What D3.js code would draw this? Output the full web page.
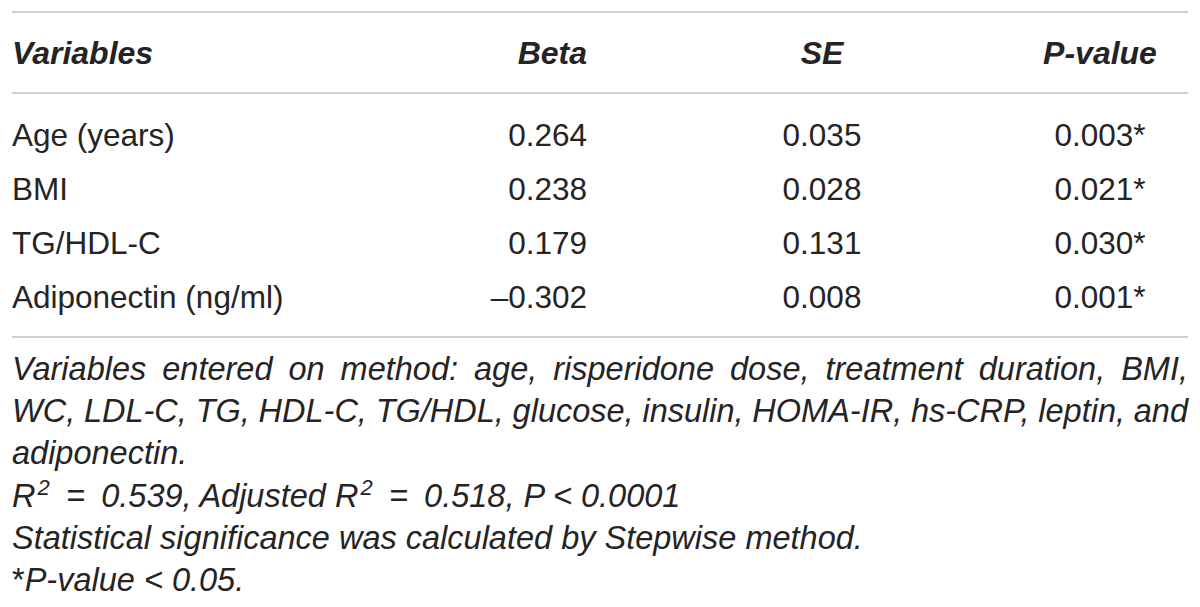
<!DOCTYPE html>
<html>
<head>
<meta charset="utf-8">
<script src="https://cdn.jsdelivr.net/npm/d3@7/dist/d3.min.js"></script>
<style>
  body { margin: 0; background: #fff; }
  text { font-family: "Liberation Sans", Arial, sans-serif; fill: #262324; }
</style>
</head>
<body>
<svg id="chart" width="1200" height="607"></svg>
<script>
// table content
var columns = ["Variables", "Beta", "SE", "P-value"];
var variables = ["Age (years)", "BMI", "TG/HDL-C", "Adiponectin (ng/ml)"];
var beta = ["0.264", "0.238", "0.179", "\u20130.302"];
var se = ["0.035", "0.028", "0.131", "0.008"];
var pValues = ["0.003", "0.021", "0.030", "0.001"];
var significant = [true, true, true, true];

// footnotes: first two lines are justified
var noteLine1 = "Variables entered on method: age, risperidone dose, treatment duration, BMI,";
var noteLine2 = "WC, LDL-C, TG, HDL-C, TG/HDL, glucose, insulin, HOMA-IR, hs-CRP, leptin, and";
var noteLine3 = "adiponectin.";
var noteFit = [["R", ""], ["2", "sup"], ["\u2002=\u20020.539, Adjusted R", ""], ["2", "sup"], ["\u2002=\u20020.518, P < 0.0001", ""]];
var noteLine5 = "Statistical significance was calculated by Stepwise method.";
var noteStar = [["*", "up"], ["P-value < 0.05.", ""]];

var LEFT = 12, RIGHT = 1188;
var FS = 31.5, NOTE_FS = 32.5;

var svg = d3.select("#chart");

var x = d3.scaleOrdinal().domain(columns).range([LEFT, 587, 822, 1100]);
var anchor = d3.scaleOrdinal().domain(columns).range(["start", "end", "middle", "middle"]);
var y = d3.scalePoint().domain(variables).range([146, 308]);
var noteY = d3.scalePoint().domain(d3.range(6)).range([380, 591]);

// rules
[12, 93, 337].forEach(function(ry) {
  svg.append("line")
    .attr("x1", LEFT).attr("x2", RIGHT)
    .attr("y1", ry).attr("y2", ry)
    .style("stroke", "#cfcfcf")
    .style("stroke-width", 2);
});

// header
svg.append("g").selectAll("text")
  .data(columns)
  .enter().append("text")
    .attr("x", function(d) { return x(d); })
    .attr("y", 64)
    .attr("text-anchor", function(d) { return anchor(d); })
    .style("font-size", "32px")
    .style("font-weight", "bold")
    .style("font-style", "italic")
    .text(function(d) { return d; });

// body rows
var rows = variables.map(function(v, i) {
  return { name: v, beta: beta[i], se: se[i], p: pValues[i], sig: significant[i] };
});

var rowG = svg.append("g").selectAll("g")
  .data(rows)
  .enter().append("g")
    .attr("transform", function(d) { return "translate(0," + y(d.name) + ")"; });

rowG.append("text")
  .attr("x", x("Variables")).attr("text-anchor", anchor("Variables"))
  .style("font-size", FS + "px")
  .text(function(d) { return d.name; });

rowG.append("text")
  .attr("x", x("Beta")).attr("text-anchor", anchor("Beta"))
  .style("font-size", FS + "px")
  .text(function(d) { return d.beta; });

rowG.append("text")
  .attr("x", x("SE")).attr("text-anchor", anchor("SE"))
  .style("font-size", FS + "px")
  .text(function(d) { return d.se; });

rowG.append("text")
  .attr("x", x("P-value")).attr("text-anchor", anchor("P-value"))
  .style("font-size", FS + "px")
  .text(function(d) { return d.p + (d.sig ? "*" : ""); });

// footnotes
var notes = svg.append("g")
  .style("font-size", NOTE_FS + "px")
  .style("font-style", "italic");

function justified(line, ny) {
  var words = line.split(" ");
  var g = notes.append("g");
  var widths = [];
  words.forEach(function(w) {
    var t = g.append("text").attr("y", ny).text(w);
    widths.push(t.node().getComputedTextLength());
  });
  var gap = (RIGHT - LEFT - d3.sum(widths)) / (words.length - 1);
  var cx = LEFT;
  g.selectAll("text").each(function(d, i) {
    d3.select(this).attr("x", cx);
    cx += widths[i] + gap;
  });
}

function segmented(parts, ny) {
  var t = notes.append("text").attr("x", LEFT).attr("y", ny);
  parts.forEach(function(p, i) {
    var prev = i > 0 ? parts[i - 1][1] : "";
    var ts = t.append("tspan").text(p[0]);
    if (p[1] === "sup") ts.attr("dy", -12).attr("dx", 2).style("font-size", "22px");
    else if (prev === "sup") ts.attr("dy", 12);
    if (p[1] === "up") ts.style("font-style", "normal");
  });
}

justified(noteLine1, noteY(0));
justified(noteLine2, noteY(1));
notes.append("text").attr("x", LEFT).attr("y", noteY(2)).text(noteLine3);
segmented(noteFit, noteY(3));
notes.append("text").attr("x", LEFT).attr("y", noteY(4)).text(noteLine5);
segmented(noteStar, noteY(5));
</script>
</body>
</html>
